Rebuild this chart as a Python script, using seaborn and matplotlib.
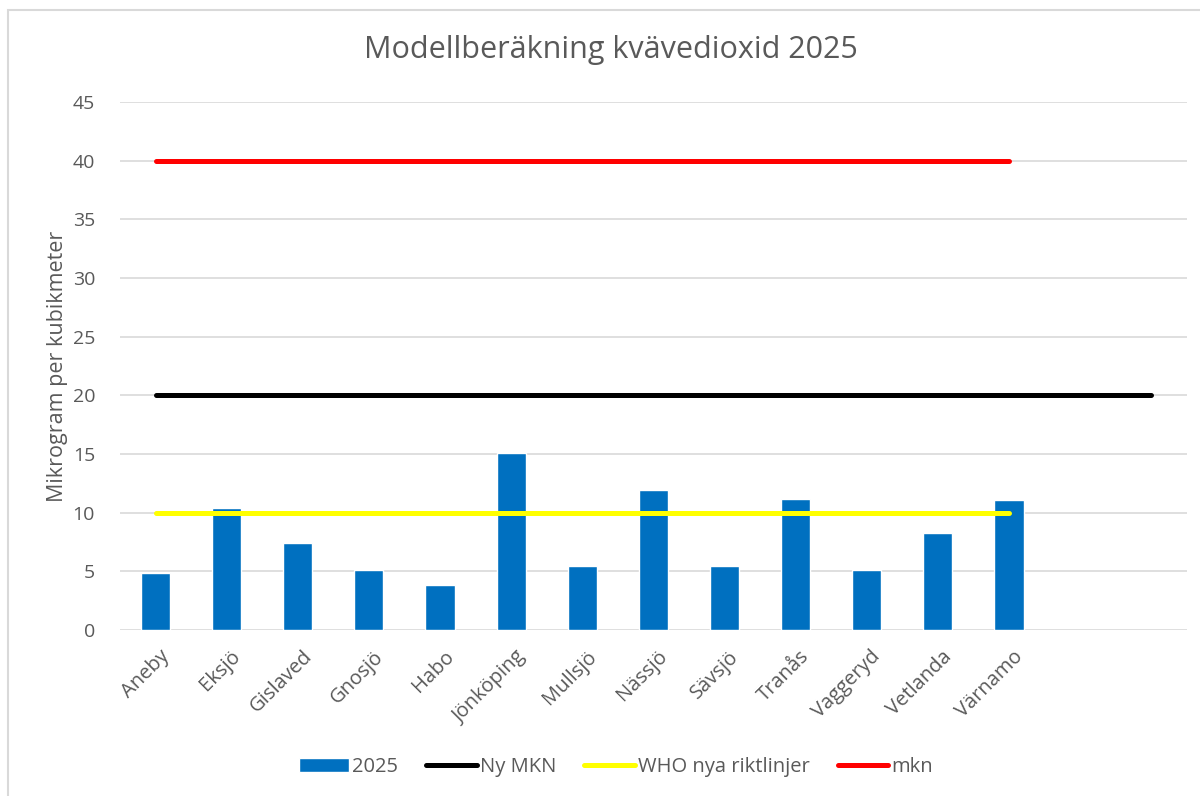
import numpy as np
import pandas as pd
import matplotlib
matplotlib.use("Agg")
import matplotlib.pyplot as plt
import matplotlib.transforms as mtrans
import seaborn as sns
from matplotlib.patches import Rectangle

# data
kommuner = ["Aneby", "Eksjö", "Gislaved", "Gnosjö", "Habo", "Jönköping", "Mullsjö",
            "Nässjö", "Sävsjö", "Tranås", "Vaggeryd", "Vetlanda", "Värnamo"]
no2_2025 = [4.9, 10.4, 7.4, 5.1, 3.8, 15.1, 5.5, 11.9, 5.5, 11.2, 5.1, 8.3, 11.1]
ny_mkn = [20, 20, 20, 20, 20, 20, 20, 20, 20, 20, 20, 20, 20, 20, 20]
who_riktlinjer = [10, 10, 10, 10, 10, 10, 10, 10, 10, 10, 10, 10, 10]
mkn = [40, 40, 40, 40, 40, 40, 40, 40, 40, 40, 40, 40, 40]
y_ticks = [0, 5, 10, 15, 20, 25, 30, 35, 40, 45]

df = pd.DataFrame({"kommun": kommuner, "no2": no2_2025})

sns.set_style("white")
plt.rcParams["font.family"] = ["Open Sans", "DejaVu Sans"]

grey_text = "#595959"
grid_col = "#d9d9d9"

fig = plt.figure(figsize=(12, 7.96), dpi=100)
ax = fig.add_axes([0.1, 0.2085, 0.889, 0.6633])

sns.barplot(data=df, x="kommun", y="no2", color="#0070c0", width=0.41,
            saturation=1, ax=ax, zorder=2)

ln_black, = ax.plot(np.arange(len(ny_mkn)), ny_mkn, color="black", lw=3.6,
                    solid_capstyle="round", zorder=3)
ln_yellow, = ax.plot(np.arange(len(who_riktlinjer)), who_riktlinjer, color="#ffff00", lw=3.6,
                     solid_capstyle="round", zorder=3)
ln_red, = ax.plot(np.arange(len(mkn)), mkn, color="#ff0000", lw=3.6,
                  solid_capstyle="round", zorder=3)

ax.set_xlim(-0.5, 14.5)
ax.set_ylim(0, 45)
ax.set_yticks(y_ticks)
ax.yaxis.grid(True, color=grid_col, lw=1.2)
ax.set_axisbelow(True)
for s in ax.spines.values():
    s.set_visible(False)
ax.tick_params(axis="both", length=0, colors=grey_text, labelsize=14)
ax.tick_params(axis="y", pad=18)
ax.set_xticks(range(len(kommuner)))
ax.set_xticklabels(kommuner, rotation=45, ha="right", rotation_mode="anchor", fontsize=14.5)
ax.tick_params(axis="x", pad=12)
shift = mtrans.ScaledTranslation(4 / 100, 0, fig.dpi_scale_trans)
for lbl in ax.get_xticklabels():
    lbl.set_transform(lbl.get_transform() + shift)

ax.set_xlabel("")
ax.set_ylabel("Mikrogram per kubikmeter", fontsize=15.5, color=grey_text)
ax.yaxis.set_label_coords(-0.049, 0.5)

fig.text(0.509, 0.937, "Modellberäkning kvävedioxid 2025", ha="center", va="center",
         fontsize=22, color=grey_text)

bar_handle = ax.containers[0].patches[0]
leg = fig.legend([bar_handle, ln_black, ln_yellow, ln_red],
                 ["2025", "Ny MKN", "WHO nya riktlinjer", "mkn"],
                 loc="center", bbox_to_anchor=(0.513, 0.036), ncol=4, frameon=False,
                 fontsize=14.5, handlelength=2.5, handletextpad=0.15, columnspacing=1.4)
for t in leg.get_texts():
    t.set_color(grey_text)

# light chart-area border
fig.patches.append(Rectangle((8 / 1200, -0.02), 1.1, 1 - 10 / 796 + 0.02,
                             transform=fig.transFigure, fill=False,
                             edgecolor=grid_col, lw=1.5, zorder=0))

fig.savefig("out.png", dpi=100, facecolor="white")
